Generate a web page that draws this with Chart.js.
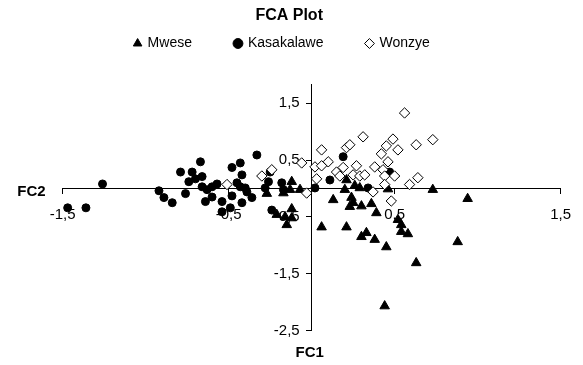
<!DOCTYPE html>
<html>
<head>
<meta charset="utf-8">
<title>FCA Plot</title>
<script src="https://cdn.jsdelivr.net/npm/chart.js@4.4.0/dist/chart.umd.min.js"></script>
<style>
    html, body { margin: 0; padding: 0; background: #ffffff; }
</style>
</head>
<body>
<canvas id="fca" width="583" height="365"></canvas>
<script>
// values
const seriesNames = ["Mwese", "Kasakalawe", "Wonzye"];

const mweseFC1 = [-0.27, -0.21, -0.16, -0.12, -0.15, -0.12, -0.12, -0.13, -0.07, 0.06,
    0.13, 0.20, 0.21, 0.24, 0.23, 0.25, 0.26, 0.29, 0.30, 0.36,
    0.39, 0.21, 0.30, 0.33, 0.38, 0.45, 0.52, 0.54, 0.54, 0.58,
    0.63, 0.88, 0.94, 0.73, 0.46, 0.44, -0.17];
const mweseFC2 = [-0.09, -0.46, -0.50, -0.36, -0.64, -0.52, 0.12, -0.02, -0.02, -0.68,
    -0.20, -0.02, 0.15, -0.16, -0.32, -0.25, 0.05, 0.01, -0.31, -0.27,
    -0.43, -0.68, -0.85, -0.78, -0.90, -1.03, -0.55, -0.64, -0.76, -0.80,
    -1.31, -0.94, -0.18, -0.02, -0.01, -2.07, -0.08];

const kasakalaweFC1 = [-1.47, -1.36, -1.26, -0.92, -0.89, -0.84, -0.79, -0.76, -0.74, -0.72,
    -0.70, -0.67, -0.66, -0.66, -0.64, -0.63, -0.60, -0.60, -0.57, -0.54,
    -0.54, -0.49, -0.48, -0.48, -0.43, -0.42, -0.43, -0.45, -0.42, -0.40,
    -0.39, -0.36, -0.33, -0.25, -0.26, -0.28, -0.24, -0.18, -0.17, 0.02,
    0.11, 0.19, 0.47, 0.34];
const kasakalaweFC2 = [-0.34, -0.34, 0.08, -0.04, -0.16, -0.25, 0.29, -0.09, 0.12, 0.29,
    0.17, 0.47, 0.21, 0.03, -0.23, -0.02, -0.15, 0.03, 0.08, -0.41,
    -0.23, -0.34, 0.37, -0.13, 0.45, 0.24, 0.03, 0.10, -0.25, 0.01,
    -0.06, -0.16, 0.59, 0.29, 0.12, 0.01, -0.38, 0.10, -0.02, 0.01,
    0.15, 0.56, 0.29, 0.01];

const wonzyeFC1 = [-0.51, -0.30, -0.24, -0.06, -0.03, 0.02, 0.06, 0.06, 0.10, 0.03,
    0.15, 0.19, 0.17, 0.21, 0.23, 0.31, 0.56, 0.49, 0.45, 0.42,
    0.52, 0.63, 0.73, 0.27, 0.25, 0.29, 0.32, 0.38, 0.46, 0.43,
    0.44, 0.50, 0.37, 0.48, 0.59, 0.64, 0.44];
const wonzyeFC2 = [0.07, 0.22, 0.33, 0.45, -0.08, 0.38, 0.40, 0.68, 0.47, 0.17,
    0.29, 0.37, 0.22, 0.72, 0.77, 0.91, 1.33, 0.87, 0.75, 0.61,
    0.68, 0.77, 0.86, 0.40, 0.24, 0.22, 0.24, 0.38, 0.47, 0.33,
    0.22, 0.22, -0.06, -0.22, 0.07, 0.19, 0.07];

const xTickValues = [-1.5, -0.5, 0.5, 1.5];
const xTickLabels = ["-1,5", "-0,5", "0,5", "1,5"];
const yTickValues = [-2.5, -1.5, -0.5, 0.5, 1.5];
const yTickLabels = ["-2,5", "-1,5", "-0,5", "0,5", "1,5"];

const FONT = '"Liberation Sans", Arial, sans-serif';
Chart.defaults.font.family = FONT;
Chart.defaults.color = "#000000";

const toPoints = (xs, ys) => xs.map((x, i) => ({ x, y: ys[i] }));

// axis names sit beside the crossing axes, and the title / legend are
// nudged to the middle of the page like in the original
const fcaFrame = {
    id: "fcaFrame",
    afterLayout(chart) {
        const title = chart.titleBlock;
        title.left -= 23;
        title.right -= 23;
        const legend = chart.legend;
        legend.left -= 30;
        legend.right -= 30;
        legend.top -= 31.7;
    },
    afterDraw(chart) {
        const { ctx, chartArea, scales } = chart;
        const x0 = scales.x.getPixelForValue(0);
        const y0 = scales.y.getPixelForValue(0);
        ctx.save();
        ctx.font = "bold 15px " + FONT;
        ctx.fillStyle = "#000000";
        ctx.textBaseline = "middle";
        ctx.textAlign = "right";
        ctx.fillText("FC2", chartArea.left - 17, y0 + 3);
        ctx.textAlign = "center";
        ctx.fillText("FC1", x0 - 2, chartArea.bottom + 22);
        ctx.restore();
    },
};

const yRange = { min: -2.5, max: 1.84 };
const setYTicks = (scale) => {
    scale.ticks = yTickValues.map((value) => ({ value }));
};

new Chart(document.getElementById("fca"), {
    type: "scatter",
    data: {
        datasets: [
            {
                label: seriesNames[0],
                data: toPoints(mweseFC1, mweseFC2),
                pointStyle: "triangle",
                pointRadius: 5.5,
                backgroundColor: "#000000",
                borderColor: "#000000",
                borderWidth: 1,
                order: 3,
            },
            {
                label: seriesNames[1],
                data: toPoints(kasakalaweFC1, kasakalaweFC2),
                pointStyle: "circle",
                pointRadius: 4,
                backgroundColor: "#000000",
                borderColor: "#000000",
                borderWidth: 1,
                order: 2,
            },
            {
                label: seriesNames[2],
                data: toPoints(wonzyeFC1, wonzyeFC2),
                pointStyle: "rectRot",
                pointRadius: 5.2,
                backgroundColor: "#ffffff",
                borderColor: "#000000",
                borderWidth: 1,
                order: 1,
            },
        ],
    },
    options: {
        responsive: false,
        animation: false,
        events: [],
        layout: {
            padding: { left: 62.7, right: 21.3, top: 0, bottom: 34.5 },
        },
        plugins: {
            title: {
                display: true,
                text: "FCA Plot",
                color: "#000000",
                font: { size: 16, weight: "bold" },
                padding: { top: 6, bottom: 0 },
            },
            legend: {
                position: "top",
                maxHeight: 58.8,
                labels: {
                    usePointStyle: true,
                    boxWidth: 6,
                    boxHeight: 7,
                    padding: 43,
                    color: "#000000",
                    font: { size: 14 },
                    sort: (a, b) => a.datasetIndex - b.datasetIndex,
                },
            },
            tooltip: { enabled: false },
        },
        scales: {
            x: {
                type: "linear",
                position: { y: 0 },
                min: -1.5,
                max: 1.5,
                afterBuildTicks: (scale) => {
                    scale.ticks = xTickValues.map((value) => ({ value }));
                },
                ticks: {
                    callback: (value) => xTickLabels[xTickValues.indexOf(value)],
                    color: "#000000",
                    font: { size: 15 },
                    padding: 12,
                    autoSkip: false,
                    maxRotation: 0,
                },
                grid: { drawOnChartArea: false, drawTicks: true, tickLength: 5, color: "#000000" },
                border: { display: true, color: "#000000", width: 1 },
            },
            y: {
                type: "linear",
                position: { x: 0 },
                ...yRange,
                afterBuildTicks: setYTicks,
                ticks: { display: false },
                grid: { drawOnChartArea: false, drawTicks: true, tickLength: 5, color: "#000000" },
                border: { display: true, color: "#000000", width: 1 },
            },
            // labels only: a crossing axis puts its labels flush on the line,
            // so they get their own axis a few pixels to the left
            yLabels: {
                type: "linear",
                axis: "y",
                position: { x: -0.072 },
                ...yRange,
                afterBuildTicks: setYTicks,
                ticks: {
                    callback: (value) => yTickLabels[yTickValues.indexOf(value)],
                    color: "#000000",
                    font: { size: 15 },
                    autoSkip: false,
                },
                grid: { display: false },
                border: { display: false },
            },
        },
    },
    plugins: [fcaFrame],
});
</script>
</body>
</html>
